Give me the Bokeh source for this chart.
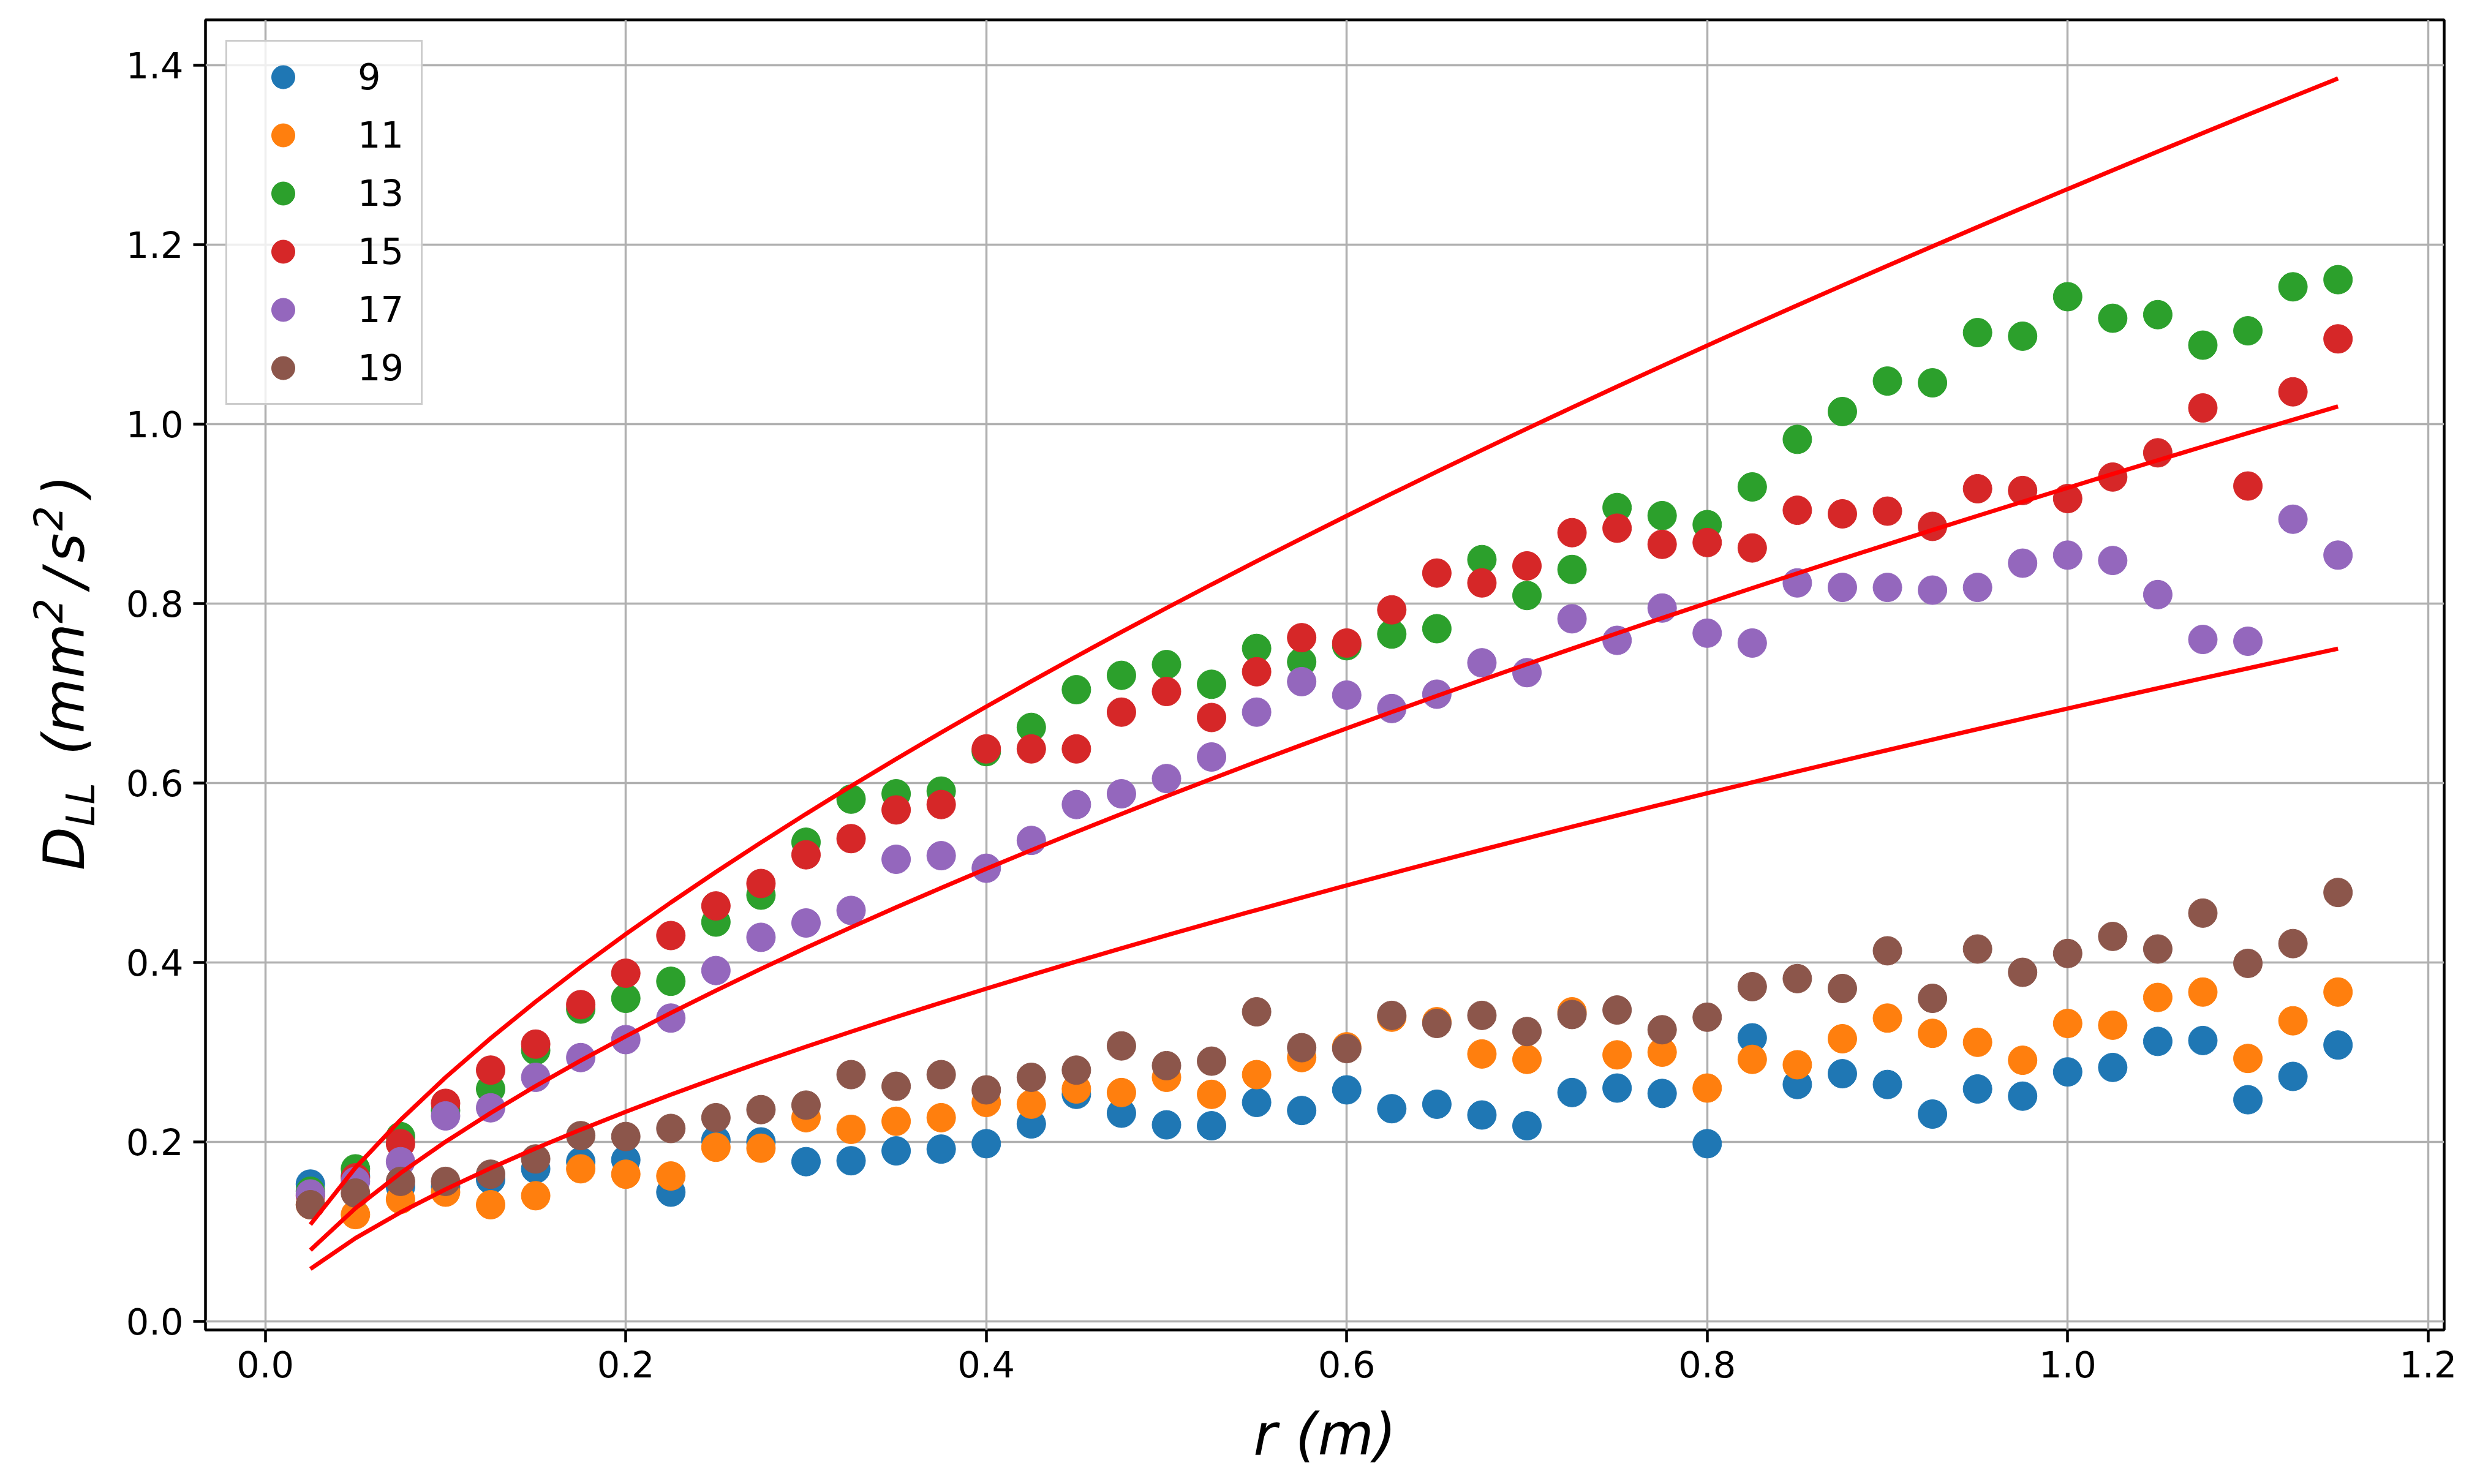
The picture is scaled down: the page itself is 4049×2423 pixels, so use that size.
import math
from bokeh.plotting import figure
from bokeh.layouts import row
from bokeh.models import Range1d, FixedTicker, PrintfTickFormatter, Legend, LegendItem, ColumnDataSource
from bokeh.core.properties import value
from bokeh.embed import file_html
from bokeh.resources import INLINE

# ---------------- data ----------------
r = [0.025, 0.05, 0.075, 0.1, 0.125, 0.15, 0.175, 0.2, 0.225, 0.25, 0.275, 0.3,
     0.325, 0.35, 0.375, 0.4, 0.425, 0.45, 0.475, 0.5, 0.525, 0.55, 0.575, 0.6,
     0.625, 0.65, 0.675, 0.7, 0.725, 0.75, 0.775, 0.8, 0.825, 0.85, 0.875, 0.9,
     0.925, 0.95, 0.975, 1.0, 1.025, 1.05, 1.075, 1.1, 1.125, 1.15]

d9 = [0.153, 0.162, 0.150, 0.150, 0.158, 0.170, 0.178, 0.180, 0.144, 0.202, 0.200, 0.178,
      0.179, 0.190, 0.192, 0.198, 0.220, 0.253, 0.232, 0.219, 0.218, 0.244, 0.235, 0.258,
      0.237, 0.242, 0.230, 0.218, 0.255, 0.260, 0.254, 0.198, 0.316, 0.264, 0.276, 0.264,
      0.231, 0.259, 0.251, 0.278, 0.283, 0.312, 0.313, 0.247, 0.273, 0.308]
d11 = [0.130, 0.119, 0.136, 0.144, 0.130, 0.140, 0.170, 0.164, 0.162, 0.194, 0.193, 0.227,
       0.214, 0.223, 0.227, 0.244, 0.242, 0.259, 0.255, 0.272, 0.253, 0.275, 0.294, 0.306,
       0.339, 0.334, 0.298, 0.292, 0.345, 0.297, 0.300, 0.260, 0.292, 0.286, 0.315, 0.338,
       0.321, 0.311, 0.291, 0.332, 0.330, 0.361, 0.367, 0.293, 0.335, 0.367]
d13 = [0.145, 0.170, 0.206, 0.235, 0.259, 0.302, 0.348, 0.360, 0.379, 0.445, 0.475, 0.534,
       0.582, 0.588, 0.591, 0.635, 0.662, 0.704, 0.720, 0.732, 0.710, 0.750, 0.735, 0.753,
       0.766, 0.772, 0.849, 0.809, 0.838, 0.907, 0.898, 0.888, 0.930, 0.983, 1.014, 1.048,
       1.046, 1.102, 1.098, 1.142, 1.118, 1.122, 1.088, 1.104, 1.153, 1.161]
d15 = [0.140, 0.160, 0.198, 0.243, 0.280, 0.309, 0.353, 0.388, 0.430, 0.463, 0.488, 0.520,
       0.538, 0.570, 0.576, 0.638, 0.638, 0.638, 0.679, 0.702, 0.673, 0.724, 0.762, 0.756,
       0.793, 0.834, 0.823, 0.842, 0.879, 0.884, 0.866, 0.868, 0.862, 0.904, 0.900, 0.903,
       0.886, 0.928, 0.926, 0.917, 0.941, 0.968, 1.018, 0.931, 1.036, 1.095]
d17 = [0.142, 0.156, 0.178, 0.229, 0.238, 0.272, 0.294, 0.314, 0.338, 0.391, 0.428, 0.444,
       0.458, 0.515, 0.519, 0.505, 0.536, 0.576, 0.588, 0.605, 0.629, 0.679, 0.713, 0.698,
       0.683, 0.699, 0.734, 0.723, 0.783, 0.759, 0.795, 0.767, 0.756, 0.823, 0.818, 0.818,
       0.815, 0.818, 0.845, 0.854, 0.848, 0.810, 0.760, 0.758, 0.894, 0.854]
d19 = [0.130, 0.143, 0.156, 0.156, 0.164, 0.181, 0.207, 0.206, 0.215, 0.227, 0.236, 0.241,
       0.275, 0.262, 0.275, 0.258, 0.272, 0.280, 0.307, 0.285, 0.290, 0.345, 0.305, 0.304,
       0.341, 0.332, 0.341, 0.323, 0.342, 0.347, 0.325, 0.339, 0.373, 0.382, 0.371, 0.413,
       0.360, 0.415, 0.389, 0.410, 0.429, 0.415, 0.455, 0.399, 0.421, 0.478]

series_labels = ["9", "11", "13", "15", "17", "19"]
series_values = [d9, d11, d13, d15, d17, d19]
series_colors = ["#1f77b4", "#ff7f0e", "#2ca02c", "#d62728", "#9467bd", "#8c564b"]

# model curves D = C * r^(2/3), prefactors
fit_coeffs = [1.262, 0.929, 0.683]
fit_exponent = 2.0 / 3.0

x_ticks = [0.0, 0.2, 0.4, 0.6, 0.8, 1.0, 1.2]
y_ticks = [0.0, 0.2, 0.4, 0.6, 0.8, 1.0, 1.2, 1.4]

# y-axis label pieces: D_LL (mm^2/s^2)
ylab_text = ["D", "LL", "(mm", "2", "/", "s", "2", ")"]
ylab_role = ["main", "sub", "main", "sup", "main", "main", "sup", "main"]

# ---------------- layout constants ----------------
H = 2400
LW = 175          # width of the strip holding the y label
MW = 4030 - LW    # width of the main figure
TOP = 32          # frame top (px from top)
BOT = 229         # space below frame

# ---------------- main figure ----------------
p = figure(width=MW, height=H, output_backend="svg", toolbar_location=None,
           x_range=Range1d(-0.0332, 1.2089), y_range=Range1d(-0.0096, 1.4505),
           min_border_left=335 - LW, min_border_right=40, min_border_top=TOP,
           min_border_bottom=BOT)
p.background_fill_color = "white"
p.border_fill_color = "white"
p.outline_line_color = "black"
p.outline_line_width = 4.5

for ax in (p.xaxis[0], p.yaxis[0]):
    ax.axis_line_color = None
    ax.major_tick_line_color = "black"
    ax.major_tick_line_width = 4.5
    ax.major_tick_out = 20
    ax.major_tick_in = 0
    ax.minor_tick_line_color = None
    ax.major_label_text_font = "DejaVu Sans"
    ax.major_label_text_font_size = "59px"
    ax.major_label_text_color = "black"
    ax.formatter = PrintfTickFormatter(format="%.1f")
p.xaxis[0].major_label_standoff = 14
p.yaxis[0].major_label_standoff = 16

p.xaxis[0].ticker = FixedTicker(ticks=x_ticks)
p.yaxis[0].ticker = FixedTicker(ticks=y_ticks)

p.xaxis[0].axis_label = "r (m)"
p.xaxis[0].axis_label_text_font = "DejaVu Sans"
p.xaxis[0].axis_label_text_font_style = "italic"
p.xaxis[0].axis_label_text_font_size = "94px"
p.xaxis[0].axis_label_text_color = "black"
p.xaxis[0].axis_label_standoff = 36

for g in (p.xgrid[0], p.ygrid[0]):
    g.grid_line_color = "#b0b0b0"
    g.grid_line_width = 3.5
p.xgrid[0].ticker = FixedTicker(ticks=x_ticks)
p.ygrid[0].ticker = FixedTicker(ticks=y_ticks)

items = []
for lab, vals, col in zip(series_labels, series_values, series_colors):
    rend = p.scatter(r, vals, size=47, fill_color=col, line_color=col, line_width=1)
    items.append(LegendItem(label=lab, renderers=[rend]))

for c in fit_coeffs:
    curve = [c * (ri ** fit_exponent) for ri in r]
    p.line(r, curve, line_color="red", line_width=7)

legend = Legend(items=items, location="top_left", margin=33, padding=10,
                glyph_width=162, glyph_height=95, label_standoff=41, spacing=0,
                label_width=93,
                label_text_font="DejaVu Sans", label_text_font_size="59px",
                label_text_color="black",
                border_line_color="#cccccc", border_line_width=3, border_line_alpha=1.0,
                background_fill_color="white", background_fill_alpha=0.8)
p.add_layout(legend)

# ---------------- y label strip ----------------
# its frame spans the same rows as the main frame; data y = H - (px from top)
q = figure(width=LW, height=H, output_backend="svg", toolbar_location=None,
           x_range=Range1d(0, LW), y_range=Range1d(BOT, H - TOP),
           x_axis_type=None, y_axis_type=None,
           min_border_left=0, min_border_right=0,
           min_border_top=TOP, min_border_bottom=BOT)
q.outline_line_color = None
q.xgrid.visible = False
q.ygrid.visible = False
q.background_fill_color = "white"
q.border_fill_color = "white"

# centre of each (rotated) piece: across = px from left, along = px from top
role_across = {"main": 105, "sub": 131, "sup": 78}
role_size = {"main": "92px", "sub": "64px", "sup": "64px"}
along_from_top = [1385, 1313, 1125, 997, 944, 894, 846, 793]

src = ColumnDataSource(dict(
    x=[role_across[rl] for rl in ylab_role],
    y=[H - a for a in along_from_top],
    text=ylab_text,
    size=[role_size[rl] for rl in ylab_role],
))
q.text(x="x", y="y", text="text", source=src, angle=math.pi / 2,
       text_font=value("DejaVu Sans"), text_font_style="italic",
       text_font_size="size", text_color="black",
       text_align="center", text_baseline="middle")

layout = row(q, p, spacing=0)
open("out.html", "w").write(file_html(layout, INLINE))
